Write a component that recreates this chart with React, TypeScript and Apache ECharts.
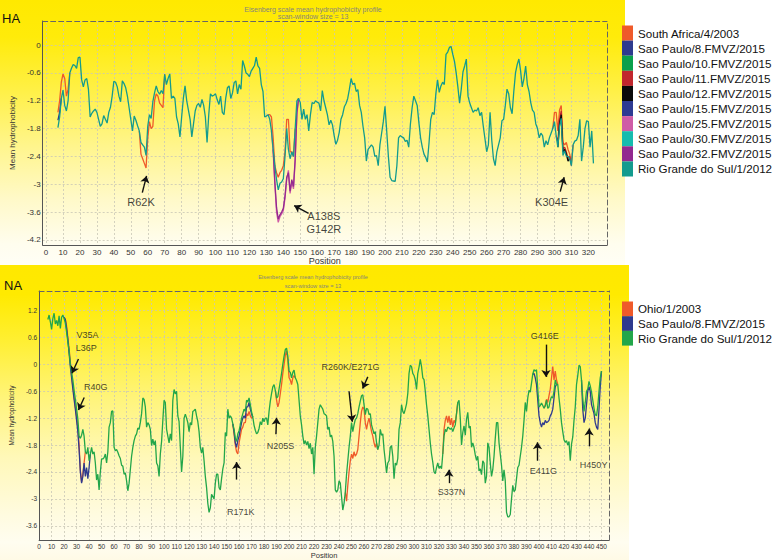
import React, { useEffect, useRef } from "react";
import * as echarts from "echarts";

const FONT = '"Liberation Sans", Arial, Helvetica, sans-serif';

// ---------------- HA panel data ----------------
const HA_START = 7;
// Rio Grande do Sul/1/2012 (reference sequence), positions 7..323
const haRioGrande = [
  -1.78, -1.55, -1.15, -0.97, -1.3, -1.42, -1.2, -0.6, -0.5, -0.42,
  -0.44, -0.5, -0.27, -0.26, -0.75, -0.9, -0.75, -0.72, -0.95, -1.55,
  -1.47, -1.42, -1.38, -1.45, -1.6, -1.75, -1.7, -1.52, -1.6, -1.68,
  -1.45, -1.34, -1.1, -0.78, -0.8, -0.9, -1.1, -1.22, -0.77, -0.83,
  -0.92, -1.1, -1.35, -1.6, -1.85, -1.53, -1.62, -1.74, -1.85, -2.1,
  -2.15, -2.2, -2.38, -1.75, -1.5, -1.58, -1.22, -1.03, -0.88, -1.0,
  -1.06, -0.98, -1.05, -0.63, -0.85, -0.72, -0.62, -1.15, -1.1, -1.15,
  -1.55, -1.7, -1.98, -1.55, -1.15, -0.88, -1.2, -1.4, -1.6, -1.98,
  -1.7, -1.42, -1.3, -1.26, -1.34, -1.17, -1.3, -1.55, -2.1, -1.5,
  -1.05, -1.1, -1.08, -1.05, -1.18, -1.28, -1.1, -1.45, -1.5, -1.15,
  -0.92, -0.88, -1.15, -1.03, -0.81, -0.77, -1.05, -0.85, -0.95, -0.33,
  -0.45, -0.6, -0.63, -0.68, -0.56, -0.5, -0.44, -0.26, -0.45, -0.5,
  -0.85, -1.0, -1.55, -1.53, -1.5, -1.6, -1.85, -2.25, -2.6, -2.9,
  -3.12, -2.98, -2.95, -2.88, -2.4, -1.8, -2.25, -2.45, -2.3, -2.4,
  -1.8, -1.2, -1.15, -1.24, -1.6, -1.38, -1.6, -1.5, -1.85, -1.5,
  -1.24, -1.26, -1.2, -1.23, -1.25, -1.42, -0.98, -1.2, -1.35, -1.5,
  -1.72, -1.62, -1.72, -1.95, -2.14, -2.05, -1.88, -1.6, -1.5, -1.33,
  -1.26, -1.15, -0.95, -0.72, -0.85, -0.82, -1.0, -0.96, -1.3, -1.45,
  -1.75, -2.0, -2.5, -2.25, -2.2, -2.15, -2.2, -2.4, -2.38, -2.6,
  -2.15, -1.9, -1.65, -1.32, -1.85, -2.4, -2.85, -2.92, -2.93, -2.94,
  -2.6, -2.0, -1.95, -1.98, -2.0, -2.08, -2.05, -2.2, -1.7, -1.35,
  -1.1, -1.2, -1.3, -1.67, -2.0, -2.2, -2.35, -2.42, -2.52, -2.1,
  -1.6, -1.45, -1.5, -1.05, -0.75, -1.02, -0.88, -0.8, -0.85, -0.2,
  -0.15, -0.05, -0.03, -0.2, -0.35, -0.6, -0.9, -1.25, -0.95, -0.58,
  -0.45, -0.3, -1.1, -1.25, -1.35, -1.45, -1.4, -1.42, -1.35, -1.52,
  -1.45, -1.75, -2.02, -2.3, -2.15, -1.45, -2.05, -2.45, -2.6, -2.3,
  -2.15, -2.0, -1.63, -1.6, -1.3, -0.95, -1.05, -1.35, -1.48, -1.0,
  -0.6, -0.42, -0.3, -0.55, -0.9, -0.72, -0.45, -0.85, -1.0, -1.24,
  -1.4, -1.45, -1.7, -1.8, -2.0, -1.9, -1.95, -2.2, -2.06, -2.15,
  -2.0, -1.9, -1.8, -1.65, -1.95, -2.2, -1.75, -1.58, -2.38, -2.28,
  -2.4, -2.4, -2.45, -2.6, -2.15, -2.07, -2.05, -1.95, -1.6, -2.5,
  -2.2, -1.8, -1.63, -1.65, -2.2, -1.85, -2.55,
];
// Other strains: only the stretches where they differ from the reference, [startPosition, values]
const haSouthAfrica: [number, number[]][] = [
  [7, [-1.45, -1.2, -0.8, -0.62, -0.72, -1.1, -0.95, -0.6]],
  [55, [-1.85, -2.35, -2.45, -2.55, -2.65, -2.0, -1.65, -1.8, -1.75, -1.2, -1.05, -1.1, -1.25, -1.3, -1.35, -0.63]],
  [131, [-1.5, -1.5, -1.55, -2.0, -2.6, -2.75, -2.85, -2.75, -2.7, -2.6, -2.3, -1.6, -1.6, -2.3, -2.3, -2.4, -1.8]],
  [299, [-1.8, -1.45, -1.45, -1.85, -1.4, -1.3, -2.1, -2.15, -2.1, -2.25, -2.35, -2.55, -2.15]],
];
const haSaoPaulo8: [number, number[]][] = [[7, [-1.62, -1.45, -1.15]]];
const haSaoPaulo10: [number, number[]][] = [];
const haSaoPaulo11: [number, number[]][] = [[301, [-1.95, -2.1, -1.6, -1.42, -2.25, -2.2, -2.3, -2.45, -2.4, -2.6]]];
const haSaoPaulo12: [number, number[]][] = [[302, [-2.2, -1.7, -1.5, -2.3, -2.25, -2.35, -2.5, -2.45]]];
const haSaoPaulo15: [number, number[]][] = [];
const haSaoPaulo25: [number, number[]][] = [
  [133, [-1.85, -2.3, -3.0, -3.6, -3.82, -3.7, -3.64, -3.57, -3.3, -2.9, -2.7, -3.2, -2.95, -3.1, -2.5, -1.5, -1.15]],
];
const haSaoPaulo30: [number, number[]][] = [];
const haSaoPaulo32: [number, number[]][] = [
  [134, [-2.25, -2.95, -3.5, -3.75, -3.66, -3.6, -3.52, -3.25, -2.85, -2.75, -3.15, -2.9, -3.05, -2.45, -1.45, -1.15]],
];
const haNames = [
  "South Africa/4/2003", "Sao Paulo/8.FMVZ/2015", "Sao Paulo/10.FMVZ/2015", "Sao Paulo/11.FMVZ/2015",
  "Sao Paulo/12.FMVZ/2015", "Sao Paulo/15.FMVZ/2015", "Sao Paulo/25.FMVZ/2015", "Sao Paulo/30.FMVZ/2015",
  "Sao Paulo/32.FMVZ/2015", "Rio Grande do Sul/1/2012",
];
const haColors = ["#EF5A2A", "#2E3A8E", "#0AA04B", "#C1272D", "#0A0A0A", "#2D3A92", "#CF5CA6", "#17BCAE", "#93298F", "#139B8E"];
const haXTicks = [0, 10, 20, 30, 40, 50, 60, 70, 80, 90, 100, 110, 120, 130, 140, 150, 160, 170, 180, 190, 200, 210, 220, 230, 240, 250, 260, 270, 280, 290, 300, 310, 320];
const haYTicks = [-4.2, -3.6, -3, -2.4, -1.8, -1.2, -0.6, 0];
const haNotes: [string, number, number][] = [
  ["R62K", 56.0, -3.39],
  ["A138S\nG142R", 163.9, -3.83],
  ["K304E", 298.3, -3.38],
];
const haArrows: [number, number, number, number][] = [
  [56.8, -3.18, 59.3, -2.82],
  [154.9, -3.63, 146.4, -3.46],
  [303.4, -3.16, 305.7, -2.85],
];

// ---------------- NA panel data ----------------
const NA_START = 7;
// Rio Grande do Sul/1/2012, positions 7..450
const naRioGrande = [
  1.0, 1.1, 0.95, 0.78, 1.02, 1.14, 0.9, 0.98, 0.86, 1.08,
  0.8, 1.05, 1.1, 1.02, 0.92, 0.72, 0.5, 0.3, 0.0, -0.18,
  -0.35, -0.58, -0.78, -1.0, -1.22, -1.6, -1.65, -1.58, -1.45, -1.6,
  -1.95, -2.0, -1.85, -2.15, -2.0, -1.85, -2.0, -1.95, -2.2, -2.58,
  -2.45, -2.8, -2.4, -2.11, -2.11, -2.08, -2.0, -2.2, -1.95, -1.4,
  -1.3, -1.05, -1.04, -1.85, -1.93, -1.9, -1.96, -2.04, -2.1, -2.25,
  -2.27, -2.45, -2.42, -2.6, -2.82, -2.65, -2.35, -2.05, -1.85, -1.7,
  -1.6, -1.55, -1.42, -1.45, -1.3, -1.1, -0.75, -0.78, -0.95, -1.4,
  -1.3, -1.35, -1.45, -1.81, -1.67, -1.8, -1.7, -2.2, -2.26, -2.5,
  -2.0, -1.72, -1.25, -0.8, -0.85, -1.45, -1.6, -1.75, -1.55, -1.7,
  -0.8, -0.56, -0.66, -0.6, -1.15, -1.28, -1.85, -2.4, -2.05, -1.2,
  -1.11, -1.2, -1.3, -1.5, -1.3, -1.35, -1.05, -1.03, -1.0, -1.15,
  -1.28, -1.5, -1.85, -1.98, -1.85, -2.15, -2.5, -2.75, -3.1, -3.3,
  -3.2, -2.9, -2.95, -3.0, -2.65, -2.45, -2.45, -2.75, -2.8, -2.55,
  -2.33, -2.2, -1.52, -1.6, -1.0, -1.2, -1.15, -1.2, -1.33, -1.45,
  -1.65, -1.72, -1.55, -1.48, -1.35, -1.2, -1.1, -1.0, -1.05, -0.8,
  -0.84, -0.75, -0.9, -1.06, -1.18, -1.36, -1.47, -1.55, -1.52, -1.43,
  -1.28, -1.35, -1.2, -1.28, -1.2, -1.2, -1.35, -1.05, -0.82, -0.65,
  -0.5, -0.45, -0.58, -0.75, -0.72, -0.55, -0.38, -0.2, 0.0, 0.18,
  0.33, 0.36, 0.18, -0.15, -0.18, -0.3, -0.18, -0.13, -0.3, -0.36,
  -0.45, -0.8, -1.15, -1.35, -1.6, -1.78, -1.7, -1.8, -1.72, -1.88,
  -1.76, -2.0, -1.85, -2.45, -1.85, -1.6, -1.3, -1.0, -0.9, -0.95,
  -1.0, -1.1, -1.12, -1.15, -1.45, -1.4, -1.62, -1.58, -1.72, -2.05,
  -2.8, -2.85, -2.8, -2.6, -2.65, -2.95, -3.25, -3.1, -2.85, -2.45,
  -2.15, -1.85, -1.6, -1.3, -1.5, -1.35, -1.23, -1.2, -1.1, -0.95,
  -0.82, -0.7, -0.68, -0.9, -1.12, -0.98, -1.0, -1.12, -1.1, -1.35,
  -1.45, -1.55, -1.5, -1.75, -1.9, -1.8, -1.45, -1.58, -1.55, -1.9,
  -2.15, -2.42, -2.2, -2.15, -1.85, -1.81, -2.05, -2.55, -2.2, -2.25,
  -2.1, -1.45, -1.3, -0.9, -1.05, -1.1, -1.0, -0.88, -0.65, -0.2,
  -0.02, -0.05, -0.2, -0.25, -0.35, -0.56, -0.2, -0.06, 0.11, -0.05,
  -0.3, -0.34, -0.6, -0.9, -1.15, -1.45, -1.75, -2.0, -2.18, -2.4,
  -2.44, -2.3, -2.2, -2.32, -2.27, -2.33, -2.0, -1.6, -1.45, -1.5,
  -1.4, -1.42, -1.45, -1.42, -1.5, -1.42, -1.35, -1.1, -0.85, -0.8,
  -1.2, -1.8, -1.52, -1.37, -1.58, -1.22, -1.07, -1.42, -1.38, -1.85,
  -1.75, -1.85, -2.02, -2.14, -2.05, -2.38, -2.33, -2.46, -2.15, -2.2,
  -2.65, -2.5, -1.75, -1.85, -2.2, -2.5, -2.35, -2.05, -1.65, -1.3,
  -1.3, -1.75, -2.0, -2.25, -2.6, -2.35, -2.6, -3.3, -3.4, -3.4,
  -3.35, -3.0, -2.7, -2.84, -2.8, -2.55, -2.3, -2.25, -2.05, -1.85,
  -1.6, -1.25, -0.85, -1.05, -0.75, -0.58, -0.62, -0.42, -0.22, -0.12,
  -0.15, -0.12, -0.55, -0.95, -0.92, -0.86, -0.92, -0.98, -0.93, -0.8,
  -0.98, -0.95, -0.8, -0.72, -0.75, -0.6, -0.35, -0.45, -0.45, -0.75,
  -1.0, -1.3, -1.5, -1.68, -1.74, -1.7, -1.8, -1.72, -2.15, -1.78,
  -1.62, -1.25, -0.95, -0.45, -0.25, -0.02, -0.05, -0.35, -0.75, -1.05,
  -0.85, -0.6, -0.55, -0.38, -0.48, -0.62, -0.8, -0.98, -1.12, -1.15,
  -0.95, -0.6, -0.3, -0.15,
];
const naOhio: [number, number[]][] = [
  [20, [1.05, 1.0, 0.85, 0.6, 0.35, 0.05, -0.25, -0.5, -0.7, -0.95, -1.15, -1.4, -1.8, -2.35, -2.62, -2.45, -2.2, -1.95]],
  [155, [-1.33, -1.55, -1.8, -1.95, -2.0, -1.75, -1.6, -1.45, -1.4, -1.3, -1.3, -1.1, -1.15, -1.05, -1.15, -1.2, -1.18]],
  [189, [-0.58, -0.8, -0.95, -0.85, -0.65, -0.45, -0.2, 0.0, 0.2, 0.3, 0.1, -0.3, -0.35, -0.45, -0.3, -0.25, -0.3]],
  [245, [-2.85, -3.05, -2.7, -2.4, -2.15, -2.0, -2.1, -1.95, -2.05, -2.0, -1.9, -1.6, -1.3, -1.05, -0.95, -1.0, -1.3, -1.45, -1.3, -1.2, -1.35, -1.5, -1.6, -1.75, -1.85, -1.75, -1.9]],
  [323, [-2.0, -1.45, -1.25, -1.15, -1.3, -1.15, -1.35, -1.2, -1.4, -1.25, -1.3, -1.1, -0.85]],
  [404, [-0.98, -0.9, -0.78, -0.85, -0.7, -0.55, -0.3, -0.05, -0.35, -0.15, -0.35, -0.45]],
];
const naSaoPaulo8: [number, number[]][] = [
  [20, [1.05, 1.0, 0.8, 0.55, 0.25, -0.05, -0.3, -0.55, -0.78, -1.0, -1.25, -1.5, -1.9, -2.4, -2.65, -2.5, -2.2, -2.5, -2.3, -2.55, -2.3, -2.0]],
  [155, [-1.33, -1.5, -1.75, -1.85, -1.7, -1.6, -1.45, -1.3, -1.2, -1.15, -1.2, -0.95, -0.95, -0.85, -1.0, -1.1, -1.18]],
  [395, [-0.22, -0.2, -0.3, -0.45, -0.8, -1.15, -1.3, -1.4, -1.3, -1.35, -1.25, -1.3, -1.28, -1.25, -1.15, -1.1, -1.0, -0.75, -0.5, -0.45]],
  [434, [-0.35, -1.0, -1.3, -1.2, -0.9, -0.6, -0.5, -0.6, -0.9, -1.0, -1.1, -1.3, -1.4, -1.45, -1.0, -0.5, -0.15]],
];
const naNames = ["Ohio/1/2003", "Sao Paulo/8.FMVZ/2015", "Rio Grande do Sul/1/2012"];
const naColors = ["#EF5A2A", "#2E3A8E", "#22A64A"];
const naXTicks = [0, 10, 20, 30, 40, 50, 60, 70, 80, 90, 100, 110, 120, 130, 140, 150, 160, 170, 180, 190, 200, 210, 220, 230, 240, 250, 260, 270, 280, 290, 300, 310, 320, 330, 340, 350, 360, 370, 380, 390, 400, 410, 420, 430, 440, 450];
const naYTicks = [-3.6, -3, -2.4, -1.8, -1.2, -0.6, 0, 0.6, 1.2];
const naNotes: [string, number, number][] = [
  ["V35A", 38.8, 0.66],
  ["L36P", 37.7, 0.37],
  ["R40G", 45.4, -0.5],
  ["R171K", 161.4, -3.29],
  ["N205S", 193.1, -1.82],
  ["R260K/E271G", 249.2, -0.05],
  ["S337N", 330.0, -2.84],
  ["E411G", 403.5, -2.38],
  ["G416E", 404.6, 0.63],
  ["H450Y", 443.7, -2.25],
];
const naArrows: [number, number, number, number][] = [
  [31.5, 0.12, 26.3, -0.2],
  [36.1, -0.74, 31.5, -1.02],
  [158.1, -2.57, 158.1, -2.18],
  [189.5, -1.56, 190.0, -1.19],
  [248.0, -0.6, 250.6, -1.28],
  [263.0, -0.28, 258.9, -0.54],
  [327.9, -2.65, 327.9, -2.35],
  [398.8, -2.15, 398.8, -1.74],
  [405.6, 0.44, 405.6, -0.28],
  [440.1, -1.83, 440.1, -1.43],
];

// ---------------- helpers ----------------
function fromSegments(segs: [number, number[]][]) {
  const out: any[] = [];
  segs.forEach(([start, vals], k) => {
    if (k > 0) out.push(["-", "-"]);
    vals.forEach((v, i) => out.push([start + i, v]));
  });
  return out;
}
function fromFull(start: number, vals: number[]) {
  return vals.map((v, i) => [start + i, v]);
}
function lineSeries(name: string, color: string, data: any[], axis: number) {
  return {
    type: "line",
    name,
    xAxisIndex: axis,
    yAxisIndex: axis,
    data,
    showSymbol: false,
    symbol: "none",
    connectNulls: false,
    silent: true,
    lineStyle: { color, width: 1.3 },
    itemStyle: { color },
    emphasis: { disabled: true },
  };
}
function noteSeries(notes: [string, number, number][], arrows: number[][], axis: number, fontSize: number) {
  return {
    type: "scatter",
    name: "notes" + axis,
    xAxisIndex: axis,
    yAxisIndex: axis,
    silent: true,
    symbolSize: 0,
    z: 5,
    data: notes.map(([t, x, y]) => ({ name: t, value: [x, y] })),
    label: {
      show: true,
      position: "inside",
      formatter: "{b}",
      fontSize,
      lineHeight: fontSize + 2,
      color: "#111",
      fontFamily: FONT,
    },
    markLine: {
      silent: true,
      symbol: ["none", "arrow"],
      symbolSize: 7,
      label: { show: false },
      lineStyle: { color: "#111", width: 1.4, type: "solid" },
      emphasis: { disabled: true },
      data: arrows.map(([x1, y1, x2, y2]) => [{ coord: [x1, y1] }, { coord: [x2, y2] }]),
    },
  };
}
function axisPair(min: number, max: number, ticks: number[], isX: boolean, fontSize: number, name: string, nameGap: number, margin: number) {
  const main: any = {
    type: "value",
    min,
    max,
    position: isX ? "bottom" : "left",
    axisLine: { show: true, onZero: false, lineStyle: { color: "#555", width: 1 } },
    axisTick: { show: false, customValues: ticks },
    axisLabel: { customValues: ticks, fontSize, color: "#333", margin, fontFamily: FONT },
    splitLine: { show: true, lineStyle: { color: "#c9c6b6", width: 0.8, type: [2, 2] } },
    name,
    nameLocation: "middle",
    nameGap,
    nameTextStyle: { fontSize: fontSize + (isX ? 1 : 0), color: "#333", fontFamily: FONT },
  };
  const second: any = {
    type: "value",
    min,
    max,
    position: isX ? "top" : "right",
    axisLine: { show: true, onZero: false, lineStyle: { color: "#666", width: 1, type: [5, 3] } },
    axisTick: { show: false },
    axisLabel: { show: false },
    splitLine: { show: false },
  };
  return [main, second];
}

export default function App() {
  const ref = useRef<HTMLDivElement>(null);
  useEffect(() => {
    if (!ref.current) return;
    const chart = echarts.init(ref.current, undefined, { renderer: "svg" });

    const haSegs = [haSouthAfrica, haSaoPaulo8, haSaoPaulo10, haSaoPaulo11, haSaoPaulo12, haSaoPaulo15, haSaoPaulo25, haSaoPaulo30, haSaoPaulo32];
    const haSeries: any[] = haSegs.map((s, i) => lineSeries(haNames[i], haColors[i], fromSegments(s), 0));
    haSeries.push(lineSeries(haNames[9], haColors[9], fromFull(HA_START, haRioGrande), 0));

    const naSeries: any[] = [
      lineSeries(naNames[0], naColors[0], fromSegments(naOhio), 2),
      lineSeries(naNames[1], naColors[1], fromSegments(naSaoPaulo8), 2),
      lineSeries(naNames[2], naColors[2], fromFull(NA_START, naRioGrande), 2),
    ];

    const [haX, haX2] = axisPair(-2, 331, haXTicks, true, 8, "Position", 9, 3);
    const [haY, haY2] = axisPair(-4.31, 0.52, haYTicks, false, 8, "Mean hydrophobicity", 16, 2);
    const [naX, naX2] = axisPair(0, 456, naXTicks, true, 6.5, "Position", 8, 3);
    const [naY, naY2] = axisPair(-3.92, 1.636, naYTicks, false, 6.5, "Mean hydrophobicity", 14, 2);
    haX.gridIndex = 0; haX2.gridIndex = 0; haY.gridIndex = 0; haY2.gridIndex = 0;
    naX.gridIndex = 1; naX2.gridIndex = 1; naY.gridIndex = 1; naY2.gridIndex = 1;

    const legendBase = {
      orient: "vertical",
      left: 622,
      padding: 0,
      itemGap: 0,
      itemWidth: 11,
      icon: "rect",
      selectedMode: false,
      textStyle: { fontSize: 11.6, color: "#111", fontFamily: FONT },
    };

    const txt = (x: number, y: number, text: string, size: number, fill: string, align = "left") => ({
      type: "text",
      x,
      y,
      silent: true,
      style: { text, fontSize: size, fontFamily: FONT, fill, align, textAlign: align, verticalAlign: "middle", textVerticalAlign: "middle" },
    });

    chart.setOption({
      animation: false,
      backgroundColor: "transparent",
      textStyle: { fontFamily: FONT },
      grid: [
        { left: 21.5, top: 21, width: 585.5, height: 224, containLabel: false },
        { left: 19.3, top: 291, width: 589.7, height: 250.7, containLabel: false },
      ],
      xAxis: [haX, haX2, naX, naX2],
      yAxis: [haY, haY2, naY, naY2],
      legend: [
        {
          ...legendBase,
          data: haNames.map((n, i) => ({ name: n, itemStyle: { color: haColors[i] } })),
          top: 25.5,
          itemHeight: 15.1,
        },
        {
          ...legendBase,
          data: naNames.map((n, i) => ({ name: n, itemStyle: { color: naColors[i] } })),
          top: 301.5,
          itemHeight: 14.7,
        },
      ],
      graphic: [
        txt(2, 18, "HA", 13, "#111"),
        txt(4, 285, "NA", 13, "#111"),
        txt(313, 9.3, "Eisenberg scale mean hydrophobicity profile", 7, "#85857c", "center"),
        txt(313, 16.7, "scan-window size = 13", 7, "#85857c", "center"),
        txt(313, 276.7, "Eisenberg scale mean hydrophobicity profile", 5.6, "#85857c", "center"),
        txt(313, 285.7, "scan-window size = 13", 5.6, "#85857c", "center"),
      ],
      series: [
        ...haSeries,
        noteSeries(haNotes, haArrows, 0, 11),
        ...naSeries,
        noteSeries(naNotes, naArrows, 2, 9),
      ],
    });
    return () => chart.dispose();
  }, []);

  return (
    <div style={{ position: "fixed", left: 0, top: 0, width: 780, height: 560, background: "#ffffff", overflow: "hidden" }}>
      <div
        style={{
          position: "absolute", left: 0, top: 0, width: 625, height: 265,
          background: "linear-gradient(to bottom, #FFE900 0%, #FFEB0A 14%, #FFF046 34%, #FFF58C 55%, #FFF9C8 75%, #FFFDEE 92%, #FFFEF6 100%)",
        }}
      />
      <div
        style={{
          position: "absolute", left: 0, top: 265, width: 629, height: 295,
          background: "linear-gradient(to bottom, #FFE800 0%, #FFEA00 10%, #FFEF30 25%, #FFF47A 45%, #FFF8B8 65%, #FFFBE0 85%, #FFFDF0 94%, #FFFAE6 100%)",
        }}
      />
      <div ref={ref} style={{ position: "absolute", left: 0, top: 0, width: 780, height: 560 }} />
    </div>
  );
}
